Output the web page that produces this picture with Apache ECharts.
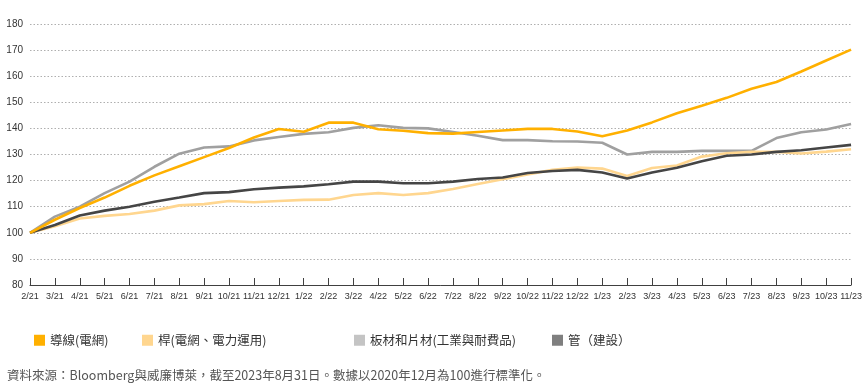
<!DOCTYPE html>
<html>
<head>
<meta charset="utf-8">
<script src="https://cdn.jsdelivr.net/npm/echarts@6/dist/echarts.min.js"></script>
<style>
html,body{margin:0;padding:0;background:#fff;}
#c{width:865px;height:389px;}
</style>
</head>
<body>
<div id="c"></div>
<script>
const categories = ['2/21','3/21','4/21','5/21','6/21','7/21','8/21','9/21','10/21','11/21','12/21',
  '1/22','2/22','3/22','4/22','5/22','6/22','7/22','8/22','9/22','10/22','11/22','12/22',
  '1/23','2/23','3/23','4/23','5/23','6/23','7/23','8/23','9/23','10/23','11/23'];

const seriesNames = ['導線(電網)', '桿(電網、電力運用)', '板材和片材(工業與耐費品)', '管（建設）'];

const conductor = [100,105,109.5,113.5,118,122,125.5,129,132.5,136.5,139.8,
  138.7,142.2,142.2,139.7,139.1,138.2,138,138.6,139.2,139.8,139.8,138.8,
  137,139.2,142.3,145.8,148.7,151.7,155.2,157.8,161.8,166,170.2];

const rod = [100,102.5,105.5,106.5,107.2,108.5,110.5,111,112.2,111.7,112.2,
  112.6,112.7,114.5,115.2,114.5,115.2,116.8,118.7,120.5,122.3,124.1,125,
  124.6,121.8,124.8,125.8,129.2,130.5,131,131,130.4,131.1,132];

const sheet = [100,106.2,110,115.2,119.6,125.3,130.3,132.7,133.1,135.4,136.7,
  137.9,138.5,140.2,141.2,140.2,140,138.6,137.2,135.5,135.5,135.1,135,
  134.5,130,131,131,131.4,131.4,131.4,136.3,138.5,139.6,141.7];

const pipe = [100,103,106.6,108.5,110,111.9,113.5,115.2,115.6,116.7,117.3,
  117.8,118.6,119.6,119.6,119,119,119.6,120.6,121.2,122.9,123.7,124.1,
  123.1,120.8,123.1,124.9,127.4,129.5,130,131,131.6,132.7,133.7];

const yTicks = [80,90,100,110,120,130,140,150,160,170,180];

const colors = ['#FFB000', '#FFD68F', '#A0A0A0', '#454545'];
const legendColors = ['#FFB000', '#FFD68F', '#C4C4C4', '#7F7F7F'];
const dataArrays = [conductor, rod, sheet, pipe];
const legendLefts = [29, 137, 349, 547];

const chart = echarts.init(document.getElementById('c'), null, {renderer: 'canvas'});

const series = dataArrays.map((d, i) => ({
  name: seriesNames[i],
  type: 'line',
  data: d,
  symbol: 'none',
  smooth: false,
  lineStyle: {width: 2.6, color: colors[i]},
  itemStyle: {color: colors[i]},
  z: [4, 2, 1, 3][i]
}));

const legends = seriesNames.map((n, i) => ({
  data: [{name: n, itemStyle: {color: legendColors[i]}}],
  left: legendLefts[i],
  top: 329,
  itemWidth: 11,
  itemHeight: 11,
  itemGap: 8,
  icon: 'rect',
  textStyle: {fontFamily: 'Noto Sans CJK TC', fontSize: 12.5, color: '#333'},
  selectedMode: false
}));

chart.setOption({
  animation: false,
  backgroundColor: '#fff',
  grid: {left: 30, right: 11, top: 24, bottom: 104, containLabel: false},
  legend: legends,
  xAxis: {
    type: 'category',
    data: categories,
    boundaryGap: false,
    axisLine: {lineStyle: {color: '#404040', width: 1}},
    axisTick: {inside: true, length: 7, alignWithLabel: true, lineStyle: {color: '#404040'}},
    axisLabel: {interval: 0, fontFamily: 'Liberation Sans', fontSize: 9, color: '#333', margin: 7},
    splitLine: {show: false}
  },
  yAxis: {
    type: 'value',
    min: yTicks[0],
    max: yTicks[yTicks.length - 1],
    interval: 10,
    axisLine: {show: false},
    axisTick: {show: false},
    axisLabel: {fontFamily: 'Liberation Sans', fontSize: 10, color: '#333', margin: 7},
    splitLine: {lineStyle: {type: [1.5, 2], color: '#AFAFAF', width: 1}}
  },
  graphic: [{
    type: 'text',
    left: 7,
    top: 369,
    style: {
      text: '資料來源：Bloomberg與威廉博萊，截至2023年8月31日。數據以2020年12月為100進行標準化。',
      font: '12.5px "Noto Sans CJK TC"',
      fill: '#555'
    }
  }],
  series: series
});
</script>
</body>
</html>
